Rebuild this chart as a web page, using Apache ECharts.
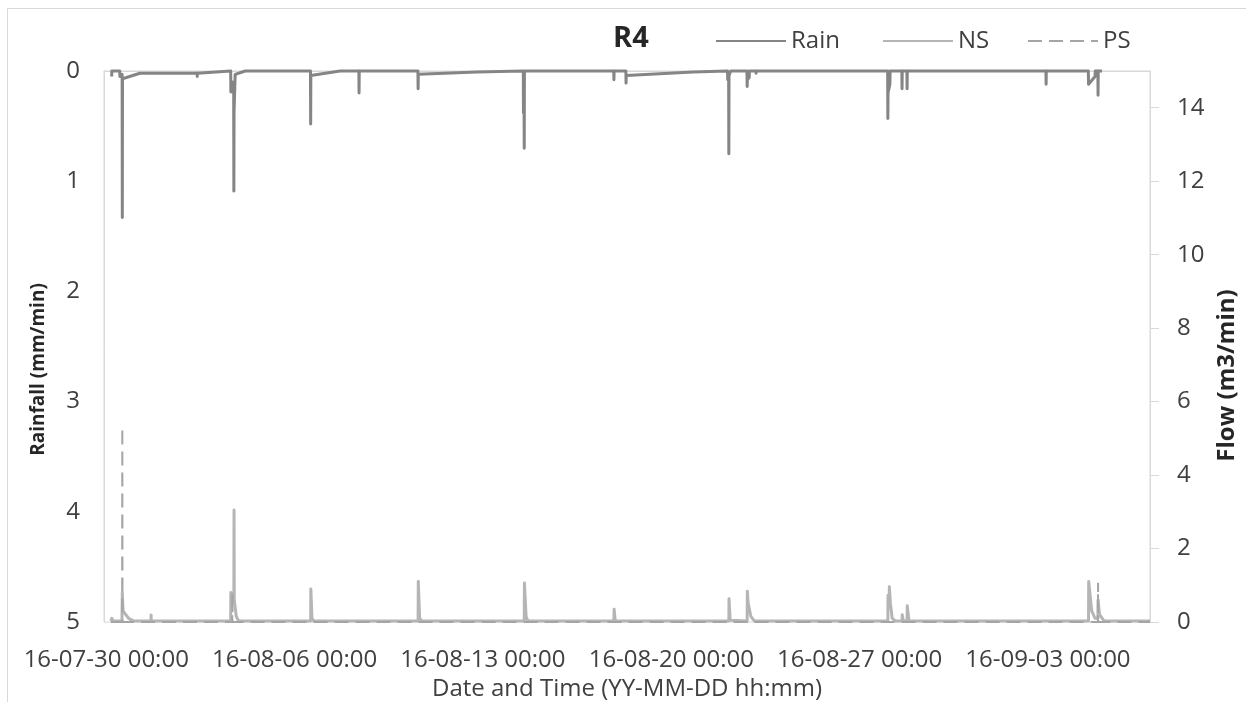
<!DOCTYPE html>
<html>
<head>
<meta charset="utf-8">
<title>R4</title>
<script src="https://cdn.jsdelivr.net/npm/echarts@6/dist/echarts.min.js"></script>
<style>
  html, body { margin: 0; padding: 0; background: #ffffff; }
  #chart { width: 1246px; height: 702px; }
</style>
</head>
<body>
<div id="chart"></div>
<script>
// Rainfall (mm/min), plotted on an inverted left axis
const rainTime = [
  '2016-07-30 04:50', '2016-07-30 05:00', '2016-07-30 12:00', '2016-07-30 12:10', '2016-07-30 14:10',
  '2016-07-30 14:20', '2016-07-30 14:30', '2016-07-31 06:00', '2016-08-02 09:00', '2016-08-02 09:10',
  '2016-08-02 09:20', '2016-08-03 15:00', '2016-08-03 15:10', '2016-08-03 16:30', '2016-08-03 17:40',
  '2016-08-03 17:50', '2016-08-03 18:00', '2016-08-03 19:00', '2016-08-04 04:00', '2016-08-06 14:10',
  '2016-08-06 14:20', '2016-08-06 14:30', '2016-08-07 16:30', '2016-08-08 09:20', '2016-08-08 09:30',
  '2016-08-08 09:40', '2016-08-10 14:00', '2016-08-10 14:10', '2016-08-10 14:20', '2016-08-12 18:40',
  '2016-08-12 19:00', '2016-08-14 12:00', '2016-08-14 12:10', '2016-08-14 12:40', '2016-08-14 12:50',
  '2016-08-14 13:00', '2016-08-17 20:40', '2016-08-17 20:50', '2016-08-17 21:00', '2016-08-18 07:30',
  '2016-08-18 07:40', '2016-08-18 07:50', '2016-08-20 19:20', '2016-08-20 19:30', '2016-08-22 02:10',
  '2016-08-22 02:20', '2016-08-22 03:10', '2016-08-22 03:20', '2016-08-22 03:30', '2016-08-22 05:00',
  '2016-08-22 19:30', '2016-08-22 19:40', '2016-08-22 19:50', '2016-08-22 21:30', '2016-08-22 21:40',
  '2016-08-23 03:30', '2016-08-23 03:40', '2016-08-23 03:50', '2016-08-28 01:00', '2016-08-28 01:10',
  '2016-08-28 01:20', '2016-08-28 03:00', '2016-08-28 03:10', '2016-08-28 13:40', '2016-08-28 13:50',
  '2016-08-28 14:00', '2016-08-28 18:10', '2016-08-28 18:20', '2016-08-28 18:30', '2016-09-02 22:10',
  '2016-09-02 22:20', '2016-09-02 22:30', '2016-09-04 12:00', '2016-09-04 12:10', '2016-09-04 18:00',
  '2016-09-04 18:10', '2016-09-04 20:30', '2016-09-04 20:40', '2016-09-04 20:50', '2016-09-05 00:15'
];
const rainMm = [
  0.05, 0, 0, 0.05, 0.03,
  1.33, 0.07, 0.02, 0.02, 0.05,
  0.02, 0, 0.19, 0.10, 0.14,
  1.09, 0.37, 0.03, 0, 0,
  0.48, 0.04, 0, 0, 0.20,
  0, 0, 0.16, 0.03, 0.01,
  0, 0, 0.38, 0.30, 0.70,
  0, 0, 0.08, 0, 0,
  0.11, 0.04, 0.01, 0, 0,
  0.08, 0.05, 0.75, 0.04, 0,
  0, 0.14, 0.08, 0.06, 0,
  0, 0.02, 0, 0, 0.43,
  0.20, 0.12, 0, 0, 0.16,
  0, 0, 0.16, 0, 0,
  0.12, 0, 0, 0.12, 0.05,
  0, 0, 0.22, 0, 0
];

// NS flow (m3/min), right axis
const nsTime = [
  '2016-07-30 04:00', '2016-07-30 05:00', '2016-07-30 06:00', '2016-07-30 14:00', '2016-07-30 14:20',
  '2016-07-30 15:00', '2016-07-30 20:00', '2016-07-31 00:00', '2016-07-31 15:50', '2016-07-31 16:00',
  '2016-07-31 16:10', '2016-08-03 15:00', '2016-08-03 15:10', '2016-08-03 17:00', '2016-08-03 17:50',
  '2016-08-03 18:00', '2016-08-03 18:10', '2016-08-03 20:00', '2016-08-03 22:00', '2016-08-06 14:20',
  '2016-08-06 14:30', '2016-08-06 15:30', '2016-08-06 17:00', '2016-08-10 14:10', '2016-08-10 14:20',
  '2016-08-10 15:30', '2016-08-10 17:00', '2016-08-14 12:50', '2016-08-14 13:00', '2016-08-14 14:30',
  '2016-08-14 16:00', '2016-08-17 20:50', '2016-08-17 21:00', '2016-08-17 22:00', '2016-08-22 03:20',
  '2016-08-22 03:30', '2016-08-22 04:30', '2016-08-22 19:40', '2016-08-22 19:50', '2016-08-22 20:30',
  '2016-08-22 23:00', '2016-08-23 02:00', '2016-08-28 01:10', '2016-08-28 01:20', '2016-08-28 02:20',
  '2016-08-28 02:30', '2016-08-28 03:30', '2016-08-28 05:00', '2016-08-28 08:00', '2016-08-28 13:50',
  '2016-08-28 14:00', '2016-08-28 15:00', '2016-08-28 18:20', '2016-08-28 18:30', '2016-08-28 20:00',
  '2016-09-04 12:10', '2016-09-04 12:20', '2016-09-04 15:00', '2016-09-04 18:00', '2016-09-04 20:30',
  '2016-09-04 20:40', '2016-09-04 22:00', '2016-09-05 02:00', '2016-09-06 19:00'
];
const nsFlow = [
  0.03, 0.10, 0.03, 0.03, 0.80,
  0.30, 0.10, 0.03, 0.03, 0.19,
  0.03, 0.03, 0.80, 0.60, 0.70,
  3.05, 0.60, 0.15, 0.03, 0.03,
  0.90, 0.10, 0.03, 0.03, 1.10,
  0.12, 0.03, 0.03, 1.06, 0.15,
  0.03, 0.03, 0.35, 0.03, 0.03,
  0.63, 0.05, 0.03, 0.84, 0.52,
  0.15, 0.03, 0.03, 0.73, 0.50,
  0.96, 0.50, 0.10, 0.03, 0.03,
  0.20, 0.03, 0.03, 0.44, 0.03,
  0.03, 1.10, 0.30, 0.10, 0.10,
  0.60, 0.20, 0.03, 0.03
];

// PS flow (m3/min), right axis
const psTime = [
  '2016-07-30 04:00', '2016-07-30 14:10', '2016-07-30 14:20', '2016-07-30 14:30', '2016-08-03 16:20',
  '2016-08-03 16:30', '2016-08-03 16:40', '2016-09-04 20:30', '2016-09-04 20:40', '2016-09-04 20:50',
  '2016-09-06 19:00'
];
const psFlow = [
  0, 0, 5.31, 0, 0,
  0.80, 0, 0, 1.07, 0,
  0
];

// Dates carrying a label on the date axis
const xLabelDates = [
  '2016-07-30 00:00', '2016-08-06 00:00', '2016-08-13 00:00',
  '2016-08-20 00:00', '2016-08-27 00:00', '2016-09-03 00:00'
];
const xStart = '2016-07-29 22:00';
const xEnd = '2016-09-06 19:00';

const FONT = "'Open Sans', 'Noto Sans', sans-serif";
const AXIS_GREY = '#d9d9d9';
const TEXT_GREY = '#404040';

function toTs(s) {
  const [d, t] = s.split(' ');
  const [y, m, day] = d.split('-').map(Number);
  const [hh, mm] = t.split(':').map(Number);
  return Date.UTC(y, m - 1, day, hh, mm);
}
function pairs(times, vals) {
  return times.map((t, i) => [toTs(t), vals[i]]);
}
function pad(n) { return (n < 10 ? '0' : '') + n; }
function fmtDate(v) {
  const d = new Date(v);
  return pad(d.getUTCFullYear() % 100) + '-' + pad(d.getUTCMonth() + 1) + '-' + pad(d.getUTCDate()) +
    ' ' + pad(d.getUTCHours()) + ':' + pad(d.getUTCMinutes());
}

const chart = echarts.init(document.getElementById('chart'), null, { renderer: 'canvas' });

const legendBase = {
  orient: 'horizontal',
  top: 24,
  itemWidth: 70,
  itemHeight: 14,
  itemStyle: { opacity: 0 },
  textStyle: { fontFamily: FONT, fontSize: 24, color: TEXT_GREY, padding: [0, 0, 0, 0] }
};

chart.setOption({
  animation: false,
  backgroundColor: '#ffffff',
  title: {
    text: 'R4',
    left: 608,
    top: 19,
    textStyle: { fontFamily: FONT, fontSize: 29, fontWeight: 'bold', color: '#262626' }
  },
  legend: [
    Object.assign({}, legendBase, { left: 710, data: ['Rain'] }),
    Object.assign({}, legendBase, { left: 877, data: ['NS'] }),
    Object.assign({}, legendBase, { left: 1022, data: ['PS'] })
  ],
  graphic: [{
    type: 'rect',
    shape: { x: 7.5, y: 8.5, width: 1250, height: 710 },
    style: { fill: 'none', stroke: AXIS_GREY, lineWidth: 1 },
    silent: true,
    z: -1
  }],
  grid: {
    left: 104, right: 96, top: 71, bottom: 80,
    outerBoundsMode: 'none',
    containLabel: false,
    show: true, borderColor: AXIS_GREY, borderWidth: 1, backgroundColor: 'transparent'
  },
  xAxis: {
    type: 'value',
    min: toTs(xStart),
    max: toTs(xEnd),
    name: 'Date and Time (YY-MM-DD hh:mm)',
    nameLocation: 'middle',
    nameGap: 53,
    nameTextStyle: { fontFamily: FONT, fontSize: 24, color: TEXT_GREY },
    axisLine: { show: true, lineStyle: { color: AXIS_GREY, width: 1 } },
    axisTick: { show: false },
    splitLine: { show: false },
    axisLabel: {
      customValues: xLabelDates.map(toTs),
      formatter: fmtDate,
      margin: 26,
      fontFamily: FONT,
      fontSize: 24,
      color: TEXT_GREY,
      hideOverlap: false
    }
  },
  yAxis: [
    {
      type: 'value',
      position: 'left',
      inverse: true,
      min: 0,
      max: 5,
      interval: 1,
      name: 'Rainfall (mm/min)',
      nameLocation: 'middle',
      nameRotate: 90,
      nameGap: 56,
      nameTextStyle: {
        fontFamily: FONT, fontSize: 19, fontWeight: 'bold', color: '#262626',
        padding: [0, 46, 0, 0]
      },
      axisLine: { show: true, lineStyle: { color: AXIS_GREY, width: 1 } },
      axisTick: { show: false },
      splitLine: { show: false },
      axisLabel: { margin: 24, fontFamily: FONT, fontSize: 24, color: TEXT_GREY }
    },
    {
      type: 'value',
      position: 'right',
      min: 0,
      max: 15,
      interval: 2,
      name: 'Flow (m3/min)',
      nameLocation: 'middle',
      nameRotate: 90,
      nameGap: 45,
      nameTextStyle: {
        fontFamily: FONT, fontSize: 24, fontWeight: 'bold', color: '#262626',
        padding: [0, 58, 0, 0]
      },
      axisLine: { show: true, lineStyle: { color: AXIS_GREY, width: 1 } },
      axisTick: { show: true, inside: false, length: 9, lineStyle: { color: AXIS_GREY, width: 1 } },
      splitLine: { show: false },
      axisLabel: { margin: 27, showMaxLabel: false, fontFamily: FONT, fontSize: 24, color: TEXT_GREY }
    }
  ],
  series: [
    {
      name: 'Rain',
      type: 'line',
      yAxisIndex: 0,
      data: pairs(rainTime, rainMm),
      symbol: 'none',
      clip: false,
      lineStyle: { color: '#858585', width: 3, join: 'round' },
      itemStyle: { color: '#858585' },
      z: 3
    },
    {
      name: 'NS',
      type: 'line',
      yAxisIndex: 1,
      data: pairs(nsTime, nsFlow),
      symbol: 'none',
      clip: false,
      lineStyle: { color: '#b5b5b5', width: 3, join: 'round' },
      itemStyle: { color: '#b5b5b5' },
      z: 4
    },
    {
      name: 'PS',
      type: 'line',
      yAxisIndex: 1,
      data: pairs(psTime, psFlow),
      symbol: 'none',
      clip: false,
      lineStyle: { color: '#a5a5a5', width: 2, type: [14, 7] },
      itemStyle: { color: '#a5a5a5' },
      z: 5
    }
  ]
});
</script>
</body>
</html>
